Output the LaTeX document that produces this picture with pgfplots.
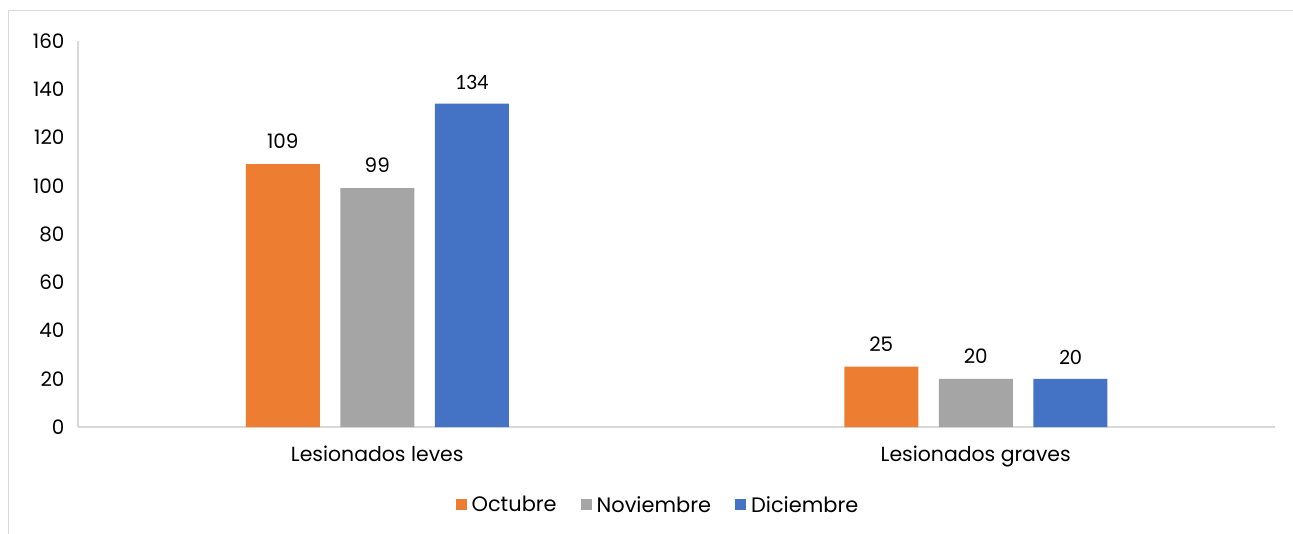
\documentclass[border=0pt]{standalone}
\usepackage{fontspec}
\setmainfont{Poppins}
\newfontfamily\calib{Carlito}
\usepackage{pgfplots}
\pgfplotsset{compat=1.18}

\definecolor{cOct}{HTML}{ED7D31}
\definecolor{cNov}{HTML}{A5A5A5}
\definecolor{cDic}{HTML}{4472C4}
\definecolor{frameGray}{HTML}{D9D9D9}

\newcommand{\fs}[1]{\fontsize{#1}{#1}\selectfont}

\begin{document}
\begin{tikzpicture}[x=1bp,y=1bp]
\useasboundingbox (0,0) rectangle (1293,-534);
% chart frame
\draw[frameGray, line width=1.2bp] (8.5,-534) -- (8.5,-10.5) -- (1293,-10.5);

\begin{axis}[
    at={(78bp,-427bp)}, anchor=south west,
    scale only axis,
    width=1197bp, height=386bp,
    ybar, bar width=74bp,
    xmin=-0.5, xmax=1.5,
    ymin=0, ymax=160,
    xtick={0,1},
    xticklabels={Lesionados leves, Lesionados graves},
    ytick={0,20,...,160},
    axis x line*=bottom, axis y line*=left,
    axis line style={draw=frameGray, line width=1.2bp, -},
    tick style={draw=none},
    /pgf/number format/assume math mode=true,
    yticklabel style={font=\fs{20}, text=black, xshift=-10bp},
    xticklabel style={font=\fs{20.5}, text=black, yshift=-11bp},
    nodes near coords,
    every node near coord/.append style={font=\fs{20}, text=black, yshift=12bp},
    legend style={at={(0.4845,-0.202)}, anchor=center, draw=none,
        font=\fs{21}, legend columns=3,
        /tikz/every odd column/.append style={column sep=3bp},
        /tikz/every even column/.append style={column sep=22bp}},
    legend image code/.code={\fill[#1,draw=none] (0bp,-5.5bp) rectangle (11bp,5.5bp);},
]
\addplot[fill=cOct, draw=none, bar shift=-94.5bp] coordinates {(0,109) (1,25)};
\addlegendentry{Octubre}
\addplot[fill=cNov, draw=none, bar shift=0bp] coordinates {(0,99) (1,20)};
\addlegendentry{Noviembre}
\addplot[fill=cDic, draw=none, bar shift=94.5bp, nodes near coords style={font=\calib\fs{22}, yshift=-1bp}] coordinates {(0,134) (1,20)};
\addlegendentry{Diciembre}
\end{axis}
\end{tikzpicture}
\end{document}
